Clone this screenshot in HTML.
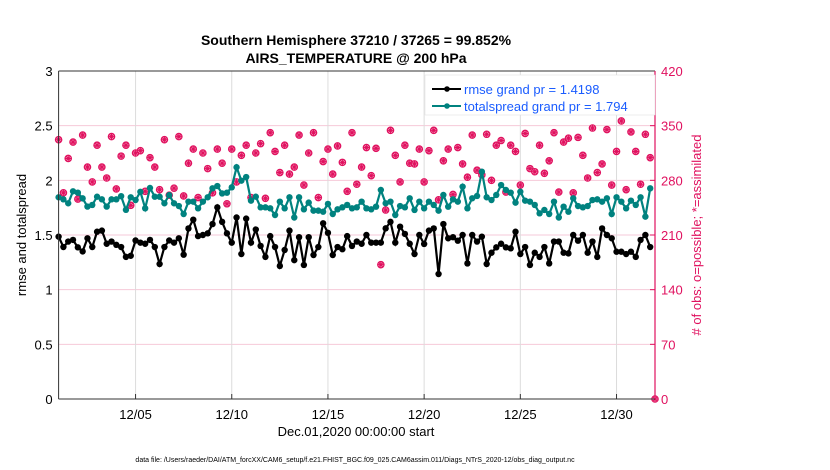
<!DOCTYPE html>
<html><head><meta charset="utf-8"><style>
html,body{margin:0;padding:0;background:#fff;}
svg{display:block;font-family:"Liberation Sans",Arial,sans-serif;}
</style></head><body>
<svg id="chart" width="830" height="470" viewBox="0 0 830 470" xmlns="http://www.w3.org/2000/svg">
<rect x="0" y="0" width="830" height="470" fill="#fff"/>
<text x="356" y="45" text-anchor="middle" font-size="14" font-weight="bold">Southern Hemisphere 37210 / 37265 = 99.852%</text>
<text x="356" y="63" text-anchor="middle" font-size="14" font-weight="bold">AIRS_TEMPERATURE @ 200 hPa</text>
<g id="grid"></g>
<g id="marks"></g>
<g id="axes"></g>
<text transform="translate(26,235) rotate(-90)" text-anchor="middle" font-size="13">rmse and totalspread</text>
<text transform="translate(701,235) rotate(-90)" text-anchor="middle" font-size="13" fill="#e0115f"># of obs: o=possible; *=assimilated</text>
<text x="356" y="436" text-anchor="middle" font-size="13">Dec.01,2020 00:00:00 start</text>
<text x="355" y="462" text-anchor="middle" font-size="7">data file: /Users/raeder/DAI/ATM_forcXX/CAM6_setup/f.e21.FHIST_BGC.f09_025.CAM6assim.011/Diags_NTrS_2020-12/obs_diag_output.nc</text>
<g>
<rect x="425" y="75" width="230" height="40" fill="#fff" stroke="#ddd" stroke-width="0.5"/>
<line x1="432" y1="89" x2="461" y2="89" stroke="#000" stroke-width="2"/>
<circle cx="447" cy="89" r="2.8" fill="#000"/>
<text x="464" y="94" font-size="13" fill="#1a5cff">rmse grand pr = 1.4198</text>
<line x1="432" y1="106" x2="461" y2="106" stroke="#00827f" stroke-width="2"/>
<circle cx="447" cy="106" r="2.8" fill="#00827f"/>
<text x="464" y="111" font-size="13" fill="#1a5cff">totalspread grand pr = 1.794</text>
</g>
</svg>
<script>
const rmse = [1.485,1.39,1.44,1.455,1.387,1.35,1.47,1.39,1.53,1.54,1.42,1.44,1.41,1.39,1.30,1.31,1.45,1.43,1.42,1.455,1.39,1.235,1.39,1.45,1.43,1.47,1.32,1.56,1.64,1.49,1.50,1.515,
1.60,1.753,1.62,1.515,1.43,1.66,1.326,1.65,1.43,1.55,1.40,1.30,1.49,1.39,1.217,1.363,1.54,1.27,1.48,1.226,1.48,1.317,1.39,1.607,1.52,1.317,1.39,1.37,1.49,1.40,1.44,
1.42,1.50,1.43,1.43,1.43,1.561,1.62,1.43,1.576,1.51,1.42,1.326,1.50,1.418,1.54,1.56,1.143,1.60,1.47,1.48,1.448,1.50,1.24,1.50,1.44,1.485,1.235,1.338,1.387,1.42,1.387,
1.378,1.53,1.326,1.39,1.226,1.338,1.30,1.39,1.24,1.44,1.44,1.338,1.332,1.50,1.448,1.50,1.338,1.44,1.30,1.56,1.50,1.47,1.347,1.347,1.326,1.347,1.30,1.455,1.50,1.39];
const spread = [1.845,1.826,1.79,1.90,1.887,1.835,1.76,1.775,1.85,1.826,1.76,1.826,1.826,1.855,1.73,1.845,1.82,1.895,1.744,1.93,1.85,1.85,1.79,1.865,1.79,1.765,1.692,1.805,1.805,1.744,1.805,1.845,
1.927,1.948,1.88,1.887,1.936,2.12,1.997,2.03,1.814,1.85,1.753,1.753,1.744,1.683,1.805,1.744,1.845,1.66,1.845,1.735,1.796,1.723,1.723,1.713,1.784,1.692,1.735,1.753,1.775,1.744,1.753,
1.805,1.744,1.735,1.759,1.912,1.79,1.805,1.683,1.765,1.753,1.836,1.729,1.805,1.744,1.805,1.775,1.723,1.866,1.759,1.826,1.805,1.942,1.744,1.836,1.857,2.079,1.845,1.82,1.866,1.957,1.912,
1.887,1.796,1.896,1.814,1.805,1.775,1.698,1.729,1.692,1.805,1.66,1.759,1.713,1.836,1.765,1.753,1.765,1.82,1.826,1.805,1.836,1.692,1.845,1.805,1.744,1.814,1.775,1.845,1.668,1.927];
const obsCount = [332,264,308,329,256,338,297,278,325,297,283,336,269,311,325,248,315,318,266,309,297,268,332,261,270,336,260,302,320,258,315,295,
264,320,302,250,320,278,312,325,258,315,327,257,341,317,290,325,288,297,338,274,315,341,258,304,320,288,324,303,266,341,275,
297,322,286,321,172,242,344,312,278,325,302,301,320,278,318,344,255,305,320,262,322,301,284,338,293,287,339,280,325,331,265,
325,317,274,340,295,291,325,289,305,341,265,329,334,264,335,312,283,347,290,301,345,274,317,356,268,342,317,275,339,309,0];
const xTickLabels = ["12/05","12/10","12/15","12/20","12/25","12/30"];
const xTickDays = [4,9,14,19,24,29];
const yTickLabels = ["0","0.5","1","1.5","2","2.5","3"];
const yTickValues = [0,0.5,1,1.5,2,2.5,3];
const y2TickLabels = ["0","70","140","210","280","350","420"];
const y2TickValues = [0,70,140,210,280,350,420];

const NS="http://www.w3.org/2000/svg";
const L=58.6,R=655,T=71,B=399;
const xS=d=>L+(d/31)*(R-L);
const yS=v=>B-(v/3)*(B-T);
const y2S=v=>B-(v/420)*(B-T);
function mk(tag,attrs,parent){const e=document.createElementNS(NS,tag);for(const k in attrs)e.setAttribute(k,attrs[k]);parent.appendChild(e);return e;}
const grid=document.getElementById('grid'),marks=document.getElementById('marks'),axes=document.getElementById('axes');

yTickValues.forEach((v,i)=>{
  if(v>0&&v<3){const g=mk('line',{x1:L,x2:R,y1:yS(v),y2:yS(v),stroke:'#f6c9d8','stroke-width':1},grid);
  
  }
  const t=mk('text',{x:L-6,y:yS(v)+5,'text-anchor':'end','font-size':13},axes);t.textContent=yTickLabels[i];
  
  
});
y2TickValues.forEach((v,i)=>{
  mk('line',{x1:R,x2:R-5,y1:y2S(v),y2:y2S(v),stroke:'#e0115f'},axes);
  const t=mk('text',{x:R+6,y:y2S(v)+5,'font-size':13,fill:'#e0115f'},axes);t.textContent=y2TickLabels[i];
  
  
});
xTickDays.forEach((d,i)=>{
  const g=mk('line',{x1:xS(d),x2:xS(d),y1:T,y2:B,stroke:'#dcdcdc'},grid);
  
  
  mk('line',{x1:xS(d),x2:xS(d),y1:B,y2:B-5,stroke:'#333'},axes);
  const t=mk('text',{x:xS(d),y:B+20,'text-anchor':'middle','font-size':13},axes);t.textContent=xTickLabels[i];
  
  
});
mk('line',{x1:L,x2:L,y1:T,y2:B,stroke:'#333'},axes);
mk('line',{x1:L,x2:R,y1:B,y2:B,stroke:'#333'},axes);
mk('line',{x1:L,x2:R,y1:T,y2:T,stroke:'#333'},axes);
mk('line',{x1:R,x2:R,y1:T,y2:B,stroke:'#e0115f','stroke-width':1.2},axes);

obsCount.forEach((c,i)=>{
  const x=xS(i*0.25),y=y2S(c);
  const g=mk('g',{},marks);
  
  
  mk('circle',{cx:x,cy:y,r:3.2,fill:'#f7b6cc',stroke:'#e0115f','stroke-width':1.2},g);
  mk('path',{d:`M${x-3} ${y}H${x+3}M${x} ${y-3}V${y+3}M${x-2.2} ${y-2.2}L${x+2.2} ${y+2.2}M${x-2.2} ${y+2.2}L${x+2.2} ${y-2.2}`,stroke:'#e0115f','stroke-width':1},g);
});
function series(vals,color,name){
  const pts=vals.map((v,i)=>xS(i*0.25).toFixed(1)+','+yS(v).toFixed(1)).join(' ');
  const pl=mk('polyline',{points:pts,fill:'none',stroke:color,'stroke-width':2.2},marks);
  
  
  vals.forEach((v,i)=>{
    const c=mk('circle',{cx:xS(i*0.25),cy:yS(v),r:3.2,fill:color},marks);
    
    
  });
}
series(spread,'#00827f','totalspread');
series(rmse,'#000','rmse');
</script>
</body></html>
